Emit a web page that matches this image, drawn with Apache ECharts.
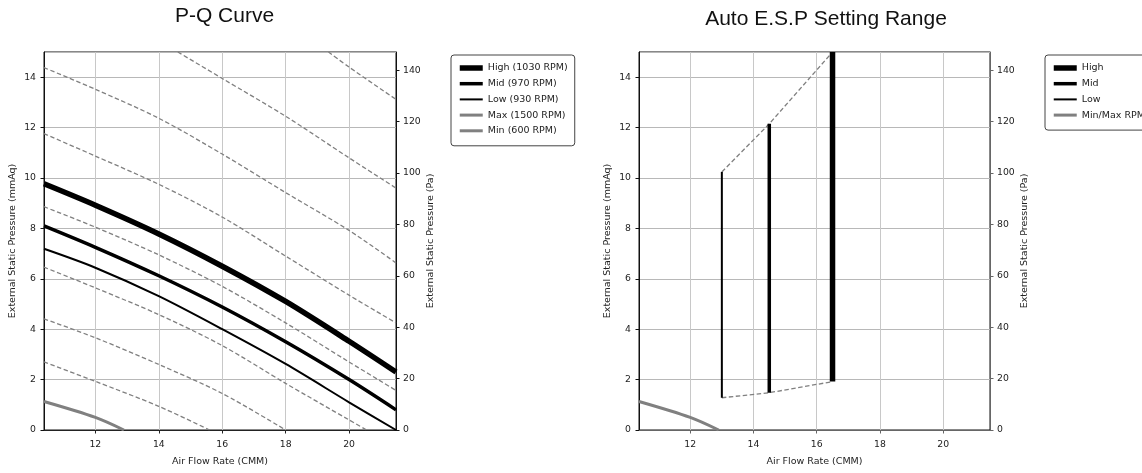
<!DOCTYPE html>
<html>
<head>
<meta charset="utf-8">
<script src="https://cdn.jsdelivr.net/npm/echarts@6/dist/echarts.min.js"></script>
<style>
html,body{margin:0;padding:0;background:#fff;}
#chart{width:1142px;height:473px;}
</style>
</head>
<body>
<div id="chart"></div>
<script>
// ---------- DATA ----------
// P-Q curves: [air flow (CMM), external static pressure (mmAq)]
const highCurve = [[10.38,9.77],[12,8.92],[14,7.78],[16,6.5],[18,5.1],[20,3.52],[21.48,2.3]];
const midCurve  = [[10.38,8.1],[12,7.25],[14,6.12],[16,4.88],[18,3.5],[20,2.0],[21.48,0.8]];
const lowCurve  = [[10.38,7.19],[12,6.44],[14,5.31],[16,4.0],[18,2.62],[20,1.1],[21.48,0]];
const maxCurve  = []; // lies above the visible range
const minCurve  = [[10.38,1.13],[12,0.5],[12.9,0]];
// unlabeled intermediate fan curves (dashed)
const dashH = [[19.35,15],[20,14.4],[21.48,13.12]];
const dashG = [[14.6,15],[16,13.95],[18,12.45],[20,10.8],[21.48,9.6]];
const dashA = [[10.38,14.38],[12,13.52],[14,12.37],[16,10.95],[18,9.42],[20,7.92],[21.48,6.63]];
const dashB = [[10.38,11.76],[12,10.87],[14,9.75],[16,8.45],[18,6.9],[20,5.35],[21.48,4.25]];
const dashC = [[10.38,8.86],[12,8.05],[14,6.95],[16,5.7],[18,4.25],[20,2.7],[21.48,1.57]];
const dashD = [[10.38,6.46],[12,5.64],[14,4.58],[16,3.35],[18,1.85],[20,0.4],[20.55,0]];
const dashE = [[10.38,4.41],[12,3.66],[14,2.6],[16,1.45],[18,0]];
const dashF = [[10.38,2.7],[12,1.93],[14,0.94],[15.6,0]];
// Auto E.S.P setting range: Low, Mid, High
const espNames = ['Low','Mid','High'];
const espFlow  = [13.0, 14.5, 16.5];
const espMinP  = [1.28, 1.48, 1.92];
const espMaxP  = [10.24, 12.15, 15.0];
// axes
const yMaxMmAq = 15;
const mmAqToPa = 9.80665;
const xMin = 10.38, xMax = 21.48;

// ---------- CHART ----------
const chart = echarts.init(document.getElementById('chart'), null, {renderer:'canvas'});
const TXT = '#222';
const FONT = 'DejaVu Sans';

function xAx(gi, lineColor){
  return {gridIndex:gi, type:'value', min:xMin, max:xMax, splitNumber:5,
    name:'Air Flow Rate (CMM)', nameLocation:'middle', nameGap:27,
    nameTextStyle:{fontFamily:FONT, fontSize:9.5, color:TXT},
    axisLine:{lineStyle:{color:lineColor, width:1}},
    axisTick:{length:3.5, lineStyle:{color:lineColor}},
    axisLabel:{margin:10, fontFamily:FONT, fontSize:9.3, color:TXT, showMinLabel:false, showMaxLabel:false},
    splitLine:{show:true, lineStyle:{color:'#c8c8c8', width:1}}};
}
function yLeft(gi){
  return {gridIndex:gi, type:'value', position:'left', min:0, max:yMaxMmAq, interval:2,
    name:'External Static Pressure (mmAq)', nameLocation:'middle', nameGap:26, nameRotate:90,
    nameTextStyle:{fontFamily:FONT, fontSize:9.5, color:TXT},
    axisLine:{show:true, lineStyle:{color:'#111'}},
    axisTick:{show:true, length:3.5, lineStyle:{color:'#111'}},
    axisLabel:{margin:8, fontFamily:FONT, fontSize:9.3, color:TXT, showMaxLabel:false},
    splitLine:{show:true, lineStyle:{color:'#b8b8b8', width:1}}};
}
function yRight(gi, lineColor){
  return {gridIndex:gi, type:'value', position:'right', min:0, max:yMaxMmAq*mmAqToPa, interval:20,
    name:'External Static Pressure (Pa)', nameLocation:'middle', nameGap:30, nameRotate:90,
    nameTextStyle:{fontFamily:FONT, fontSize:9.5, color:TXT},
    axisLine:{show:true, lineStyle:{color:lineColor}},
    axisTick:{show:true, length:3.5, lineStyle:{color:lineColor}},
    axisLabel:{margin:7, fontFamily:FONT, fontSize:9.3, color:TXT, showMaxLabel:false},
    splitLine:{show:false}};
}
function lineS(name, data, color, width, type, xi, yi, smooth){
  return {name:name, type:'line', xAxisIndex:xi, yAxisIndex:yi, data:data,
    symbol:'none', showSymbol:false, smooth:smooth === undefined ? 0.3 : smooth,
    itemStyle:{color:color},
    lineStyle:{color:color, width:width, type:type || 'solid', cap:'butt'},
    emphasis:{disabled:true}, silent:true, z: 3};
}

const series = [];
[dashH,dashG,dashA,dashB,dashC,dashD,dashE,dashF].forEach((d,i)=>{
  series.push(Object.assign(lineS('fan'+i, d, '#808080', 1.3, [4.5,2.5], 0, 0), {z:2}));
});
series.push(lineS('Max (1500 RPM)', maxCurve, '#808080', 3, 'solid', 0, 0));
series.push(lineS('Min (600 RPM)', minCurve, '#808080', 3, 'solid', 0, 0));
series.push(lineS('Low (930 RPM)', lowCurve, '#000', 2, 'solid', 0, 0));
series.push(lineS('Mid (970 RPM)', midCurve, '#000', 3.5, 'solid', 0, 0));
series.push(lineS('High (1030 RPM)', highCurve, '#000', 5.5, 'solid', 0, 0));

// right chart
series.push(Object.assign(lineS('espTop', espFlow.map((x,i)=>[x, espMaxP[i]]), '#808080', 1.3, [4.5,2.5], 1, 2, false), {z:2}));
series.push(Object.assign(lineS('espBottom', espFlow.map((x,i)=>[x, espMinP[i]]), '#808080', 1.3, [4.5,2.5], 1, 2, false), {z:2}));
series.push(lineS('Min/Max RPM', minCurve, '#808080', 3, 'solid', 1, 2));
const espWidths = {Low:2, Mid:3.5, High:5.5};
espNames.forEach((n,i)=>{
  series.push(lineS(n, [[espFlow[i], espMinP[i]],[espFlow[i], espMaxP[i]]], '#000', espWidths[n], 'solid', 1, 2, false));
});

const legendText = {fontFamily:FONT, fontSize:9.5, color:TXT, lineHeight:10};
const hideSym = {opacity:0};
const option = {
  animation:false,
  backgroundColor:'#fff',
  title:[
    {text:'P-Q Curve', left:219.5, top:1, textAlign:'center',
     textStyle:{fontFamily:'Liberation Sans', fontSize:21, fontWeight:'normal', color:'#111'}},
    {text:'Auto E.S.P Setting Range', left:821, top:4, textAlign:'center',
     textStyle:{fontFamily:'Liberation Sans', fontSize:21, fontWeight:'normal', color:'#111'}}
  ],
  grid:[
    {left:44, right:746, top:52, bottom:43, show:true, borderColor:'#111', borderWidth:1, backgroundColor:'rgba(0,0,0,0)', containLabel:false},
    {left:639, right:152, top:52, bottom:43, show:true, borderColor:'#111', borderWidth:1, backgroundColor:'rgba(0,0,0,0)', containLabel:false}
  ],
  xAxis:[xAx(0,'#222'), xAx(1,'#666')],
  yAxis:[yLeft(0), yRight(0,'#111'), yLeft(1), yRight(1,'#666')],
  legend:[
    {orient:'vertical', left:451, top:55, itemWidth:23, itemHeight:10, itemGap:5.7,
     padding:[8,7,10,6], borderColor:'#444', borderWidth:1, borderRadius:3, backgroundColor:'#fff',
     textStyle:legendText, selectedMode:false, itemStyle:hideSym,
     data:[
       {name:'High (1030 RPM)', lineStyle:{width:5.5}, itemStyle:hideSym},
       {name:'Mid (970 RPM)', lineStyle:{width:3.5}, itemStyle:hideSym},
       {name:'Low (930 RPM)', lineStyle:{width:2}, itemStyle:hideSym},
       {name:'Max (1500 RPM)', lineStyle:{width:3}, itemStyle:hideSym},
       {name:'Min (600 RPM)', lineStyle:{width:3}, itemStyle:hideSym}
     ]},
    {orient:'vertical', left:1045, top:55, itemWidth:23, itemHeight:10, itemGap:5.7,
     padding:[8,30,10,6], borderColor:'#444', borderWidth:1, borderRadius:3, backgroundColor:'#fff',
     textStyle:legendText, selectedMode:false, itemStyle:hideSym,
     data:[
       {name:'High', lineStyle:{width:5.5}, itemStyle:hideSym},
       {name:'Mid', lineStyle:{width:3.5}, itemStyle:hideSym},
       {name:'Low', lineStyle:{width:2}, itemStyle:hideSym},
       {name:'Min/Max RPM', lineStyle:{width:3}, itemStyle:hideSym}
     ]}
  ],
  series:series
};
chart.setOption(option);
</script>
</body>
</html>
